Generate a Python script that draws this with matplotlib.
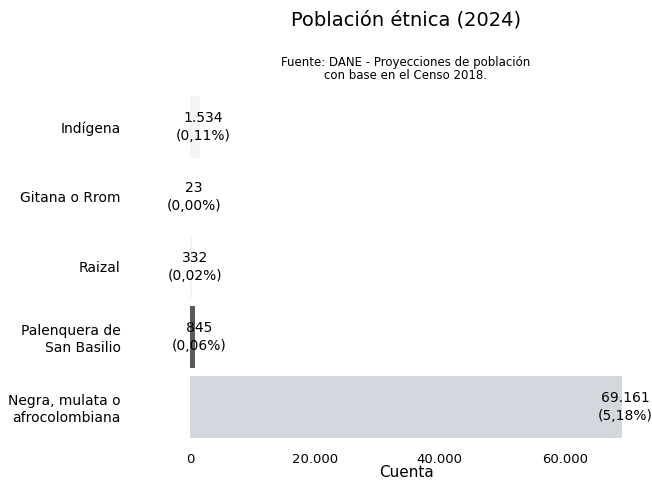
import matplotlib
matplotlib.use("Agg")
import matplotlib.pyplot as plt

categorias = [
    "Indígena",
    "Gitana o Rrom",
    "Raizal",
    "Palenquera de\nSan Basilio",
    "Negra, mulata o\nafrocolombiana",
]
cuentas = [1534, 23, 332, 845, 69161]
porcentajes = [0.11, 0.00, 0.02, 0.06, 5.18]
colores = ["#f3f4f6", "#f3f4f6", "#f3f4f6", "#5a5a5a", "#d3d8de"]
xticks = [0, 20000, 40000, 60000]


def miles(v):
    return f"{v:,}".replace(",", ".")


def pct(p):
    return f"({p:.2f}%)".replace(".", ",")


fig = plt.figure(figsize=(6.52, 4.83), dpi=100)
# ejes: x de 190 a 622 px, y de 92 a 442 px
ax = fig.add_axes([190 / 652, 1 - 442 / 483, 432 / 652, 350 / 483])

y = list(range(len(categorias)))
ax.barh(y, cuentas, height=0.88, color=colores)
ax.set_ylim(len(categorias) - 0.5, -0.5)
ax.set_xlim(0, 69161)

for yi, c, p in zip(y, cuentas, porcentajes):
    ax.annotate(f"{miles(c)}\n{pct(p)}", (c, yi), xytext=(2.5, 0),
                textcoords="offset points", ha="center", va="center",
                fontsize=10, linespacing=1.45, annotation_clip=False)

ax.set_yticks(y, categorias, fontsize=10)
ax.set_xticks(xticks, [miles(t) for t in xticks], fontsize=9.5)
ax.tick_params(axis="both", length=0)
ax.tick_params(axis="y", pad=50)
ax.tick_params(axis="x", pad=8)
ax.set_xlabel("Cuenta", fontsize=11, labelpad=-1)
for s in ax.spines.values():
    s.set_visible(False)

fig.text(406 / 652, 1 - 20 / 483, "Población étnica (2024)", ha="center",
         va="center", fontsize=14)
fig.text(406 / 652, 1 - 69 / 483,
         "Fuente: DANE - Proyecciones de población\ncon base en el Censo 2018.",
         ha="center", va="center", fontsize=8.5, linespacing=1.0)

fig.savefig("out.png", dpi=100)
